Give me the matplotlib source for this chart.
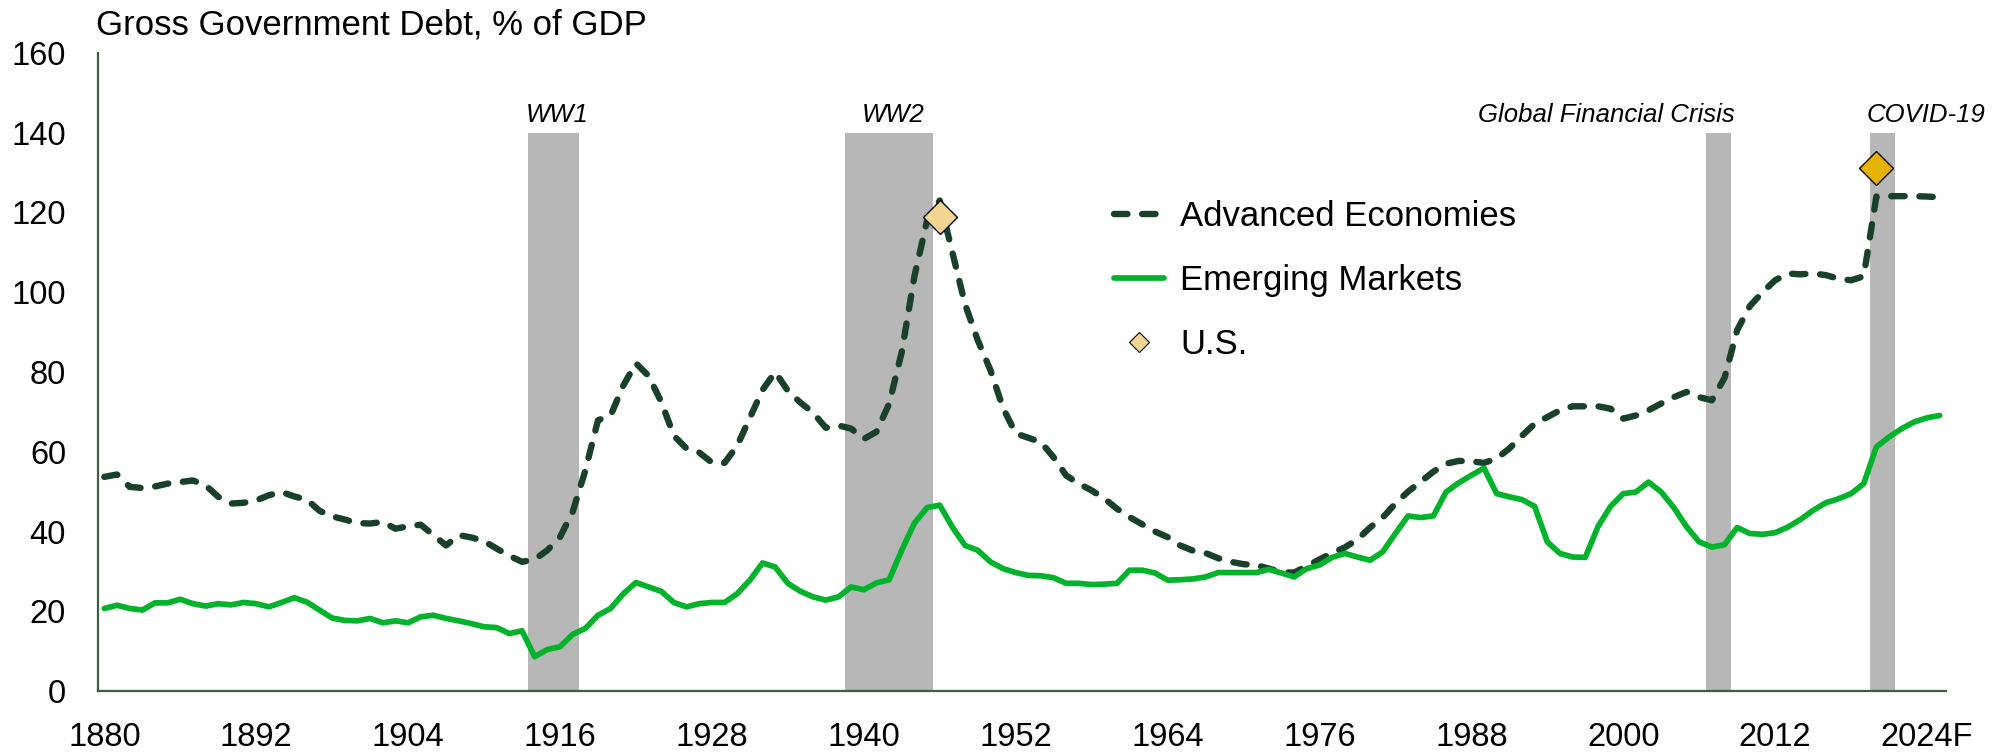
import matplotlib.pyplot as plt

plt.rcParams['font.family'] = ['Liberation Sans', 'DejaVu Sans']

# gross government debt, % of GDP, 1880-2025 (2024-25 forecast)
years = list(range(1880, 2026))

advanced = [
    53.7, 54.3, 51.2, 50.9, 51.3, 52.0, 52.4, 52.8, 51.6, 48.7,   # 1880s
    47.0, 47.2, 47.8, 49.1, 49.9, 48.8, 48.0, 45.2, 43.8, 43.0,   # 1890s
    42.1, 42.0, 42.4, 40.7, 41.3, 41.7, 39.1, 36.5, 39.1, 38.5,   # 1900s
    37.6, 35.7, 33.9, 32.4, 33.0, 35.3, 38.6, 44.9, 55.3, 67.9,   # 1910s
    69.1, 76.6, 82.2, 79.0, 72.5, 64.0, 60.8, 59.8, 57.3, 57.2,   # 1920s
    61.5, 68.5, 75.5, 80.0, 75.3, 72.3, 69.8, 66.0, 66.6, 65.8,   # 1930s
    63.2, 65.0, 72.0, 85.0, 104.0, 118.0, 123.0, 110.0, 97.0, 88.0,  # 1940s
    80.5, 71.0, 64.6, 63.5, 62.4, 58.6, 54.0, 52.0, 50.3, 48.3,   # 1950s
    45.7, 43.6, 41.8, 40.0, 38.6, 36.5, 35.2, 34.6, 33.3, 32.4,   # 1960s
    31.8, 31.6, 30.7, 29.8, 29.7, 31.3, 33.0, 34.6, 36.0, 38.0,   # 1970s
    41.0, 43.5, 47.0, 50.0, 52.5, 55.0, 57.0, 57.7, 57.6, 57.2,   # 1980s
    58.3, 60.8, 64.0, 67.0, 68.7, 70.4, 71.4, 71.4, 71.4, 70.8,   # 1990s
    68.3, 69.1, 70.4, 72.1, 73.7, 75.0, 73.7, 72.9, 78.5, 90.5,   # 2000s
    96.5, 100.0, 103.0, 104.7, 104.5, 104.7, 104.3, 103.4, 103.0, 104.0,  # 2010s
    124.0, 124.1, 124.1, 124.1, 124.0, 123.8,                     # 2020s
]

emerging = [
    20.7, 21.5, 20.7, 20.3, 22.1, 22.1, 23.0, 21.9, 21.3, 21.9,
    21.6, 22.2, 21.9, 21.1, 22.2, 23.4, 22.3, 20.3, 18.3, 17.7,
    17.6, 18.2, 17.1, 17.6, 17.1, 18.6, 19.0, 18.2, 17.6, 16.9,
    16.1, 15.9, 14.4, 15.1, 8.6, 10.4, 11.1, 14.2, 15.7, 19.0,
    20.7, 24.4, 27.2, 26.1, 25.0, 22.2, 21.1, 21.9, 22.2, 22.2,
    24.4, 27.8, 32.1, 31.1, 27.0, 25.0, 23.6, 22.8, 23.6, 26.1,
    25.4, 27.1, 27.9, 35.3, 42.1, 46.0, 46.6, 41.1, 36.5, 35.3,
    32.4, 30.7, 29.7, 29.0, 28.9, 28.4, 27.0, 27.0, 26.7, 26.8,
    27.0, 30.3, 30.3, 29.6, 27.8, 27.9, 28.1, 28.6, 29.7, 29.7,
    29.7, 29.7, 30.5, 29.6, 28.6, 30.7, 31.6, 33.5, 34.5, 33.6,
    32.8, 34.9, 39.5, 43.9, 43.5, 43.9, 49.9, 52.2, 54.1, 55.9,
    49.5, 48.7, 48.0, 46.3, 37.4, 34.5, 33.6, 33.5, 41.2, 46.3,
    49.5, 49.9, 52.4, 49.9, 46.0, 41.2, 37.4, 36.1, 36.7, 41.0,
    39.5, 39.3, 39.7, 41.1, 43.0, 45.3, 47.2, 48.2, 49.5, 52.0,
    61.2, 63.7, 65.8, 67.5, 68.5, 69.1,
]

us_years = [1946, 2020]
us_debt = [118.8, 131.1]
us_colors = ['#F2D592', '#E6B400']

events = ['WW1', 'WW2', 'Global Financial Crisis', 'COVID-19']
event_start = [1914, 1939, 2007, 2020]
event_end = [1917, 1945, 2008, 2021]
event_align = ['center', 'center', 'right', 'left']

xtick_years = list(range(1880, 2025, 12))
xtick_labels = [str(y) for y in xtick_years[:-1]] + ['2024F']

W, H = 2009, 752
fig = plt.figure(figsize=(W / 100, H / 100), dpi=100)
ax = fig.add_axes([98 / W, 61 / H, 1848 / W, 638 / H])

# shaded crisis periods with their labels
for name, s, e, al in zip(events, event_start, event_end, event_align):
    ax.bar((s + e) / 2, 140, width=e - s + 1, color='#B7B7B7', zorder=1)
    if al == 'center':
        tx = (s + e) / 2 + 0.3
    elif al == 'right':
        tx = e + 0.8
    else:
        tx = s - 0.8
    ax.text(tx, 142.7, name, ha=al, va='baseline', fontsize=18.5, style='italic')

ax.plot(years, advanced, color='#19402A', lw=4.6, linestyle=(0, (2.1, 2.3)),
        dash_capstyle='round', label='Advanced Economies', zorder=3)
ax.plot(years, emerging, color='#00B32A', lw=4.1, solid_joinstyle='round',
        solid_capstyle='round', label='Emerging Markets', zorder=3)
for yr, v, c in zip(us_years, us_debt, us_colors):
    ax.plot(yr, v, marker='D', ms=17.5, mfc=c, mec='black', mew=1.0, ls='none', zorder=5)
ax.plot([], [], marker='D', ms=10.5, mfc=us_colors[0], mec='black', mew=0.8,
        ls='none', label='U.S.')

ax.set_xlim(1879.5, 2025.5)
ax.set_ylim(0, 160)
ax.set_yticks(range(0, 161, 20))
ax.set_xticks(xtick_years)
ax.set_xticklabels(xtick_labels)
ax.tick_params(axis='both', length=0, labelsize=23.5)
ax.tick_params(axis='y', pad=23)
ax.tick_params(axis='x', pad=22)

for side in ['top', 'right']:
    ax.spines[side].set_visible(False)
for side in ['left', 'bottom']:
    ax.spines[side].set_color('#3B5E45')
    ax.spines[side].set_linewidth(1.6)

ax.legend(loc='upper left', bbox_to_anchor=(1114 / W, 1 - 200 / H),
          bbox_transform=fig.transFigure, frameon=False, fontsize=25,
          handlelength=1.45, handletextpad=0.45, labelspacing=0.9,
          borderpad=0, borderaxespad=0)

fig.text(96 / W, 1 - 25 / H, 'Gross Government Debt, % of GDP', fontsize=25,
         ha='left', va='center')

fig.savefig('out.png', dpi=100)
